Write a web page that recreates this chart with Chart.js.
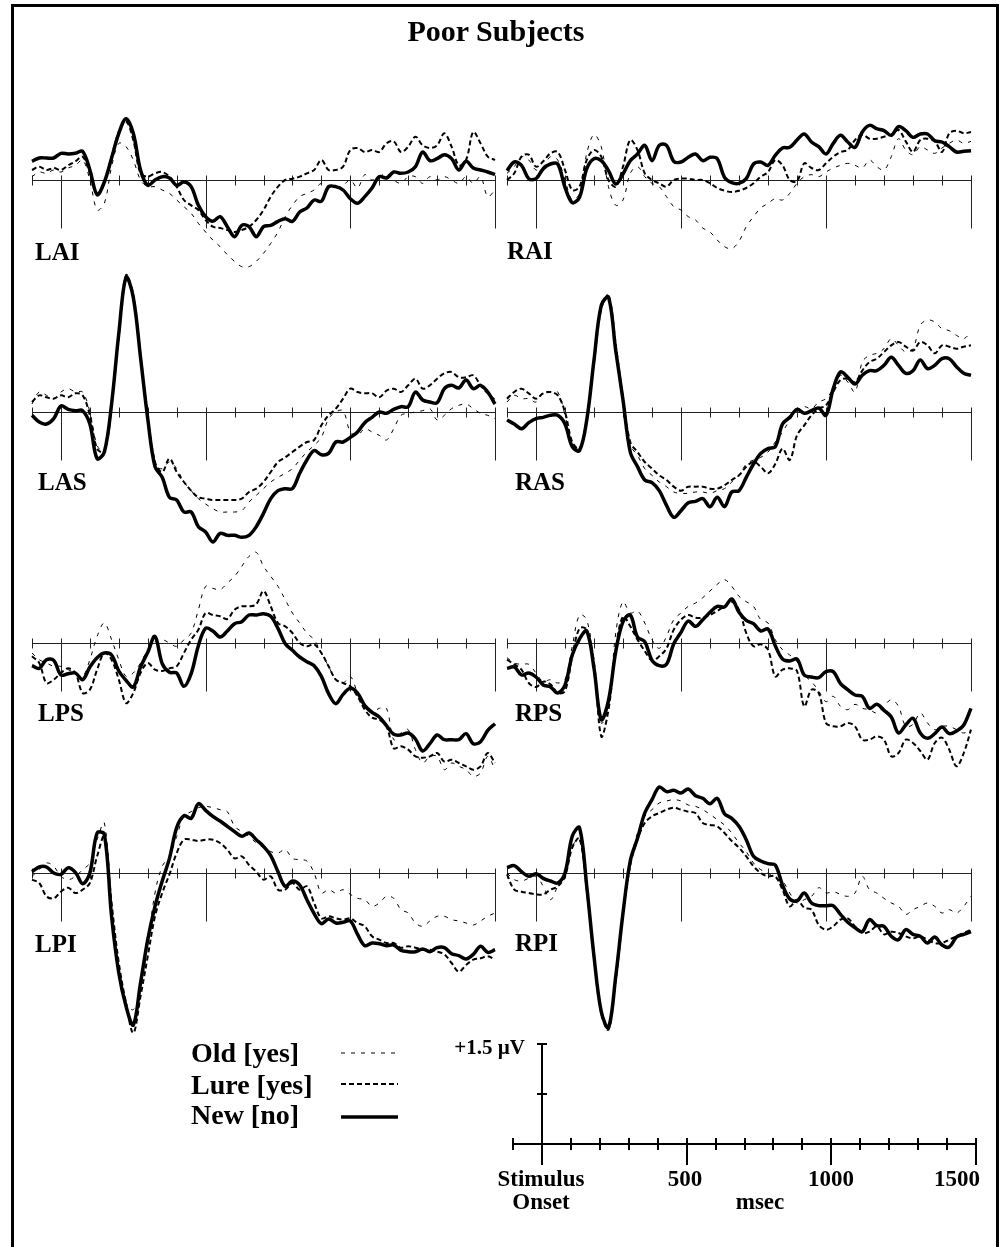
<!DOCTYPE html>
<html>
<head>
<meta charset="utf-8">
<script src="https://cdn.jsdelivr.net/npm/chart.js@4/dist/chart.umd.min.js"></script>
<style>
body { margin: 0; background: #fff; }
#page { position: relative; width: 1000px; height: 1247px; overflow: hidden; background: #fff;
        font-family: "Liberation Serif", "Times New Roman", serif; font-weight: bold; color: #000; }
#frame { position: absolute; left: 11px; top: 4px; width: 988px; height: 1300px; border: 3px solid #000; box-sizing: border-box; }
.txt { position: absolute; line-height: 1; white-space: nowrap; }
canvas { position: absolute; }
svg { position: absolute; left: 0; top: 0; }
</style>
</head>
<body>
<div id="page"><div id="frame"></div></div>
<script>
// sample times (ms) shared by every waveform
const times = [-100, -75, -50, -25, 0, 25, 50, 75, 100, 125, 150, 175, 200, 225, 250, 275, 300, 325, 350, 375,
    400, 425, 450, 475, 500, 525, 550, 575, 600, 625, 650, 675, 700, 725, 750, 775, 800, 825, 850, 875,
    900, 925, 950, 975, 1000, 1025, 1050, 1075, 1100, 1125, 1150, 1175, 1200, 1225, 1250, 1275, 1300, 1325, 1350, 1375,
    1400, 1425, 1450, 1475, 1500];
const tickTimes = [-100, 0, 100, 200, 300, 400, 500, 600, 700, 800, 900, 1000, 1100, 1200, 1300, 1400, 1500];
const majorTimes = [0, 500, 1000, 1500];
const conditions = ['Old [yes]', 'Lure [yes]', 'New [no]'];
const sites = ['LAI', 'RAI', 'LAS', 'RAS', 'LPS', 'RPS', 'LPI', 'RPI'];

// amplitudes in microvolts, positive up
const laiOld = [.05,.12,.1,.15,.12,.18,.22,.3,0,-.45,-.35,.2,.55,.5,.3,0,-.1,-.1,-.15,-.2,-.3,-.4,-.5,-.65,-.78,-.9,-1.0,-1.12,-1.22,-1.3,-1.3,-1.22,-1.1,-.95,-.78,-.55,-.38,-.25,-.2,-.15,-.05,-.1,-.12,-.08,0,-.12,.08,0,.05,.1,0,-.05,.05,.05,-.05,.05,0,.05,0,-.05,.05,-.05,.05,-.25,-.15];
const laiLure = [.15,.2,.15,.18,.15,.22,.28,.35,.1,-.2,-.05,.35,.72,.88,.6,.1,.05,.1,.12,.05,-.1,-.3,-.38,-.45,-.6,-.7,-.72,-.75,-.78,-.75,-.7,-.6,-.45,-.25,-.1,0,.02,.05,.1,.15,.3,.15,.15,.2,.45,.48,.42,.45,.42,.55,.58,.42,.5,.65,.52,.48,.52,.7,.5,.22,.3,.72,.55,.35,.3];
const laiNew = [.28,.33,.33,.33,.4,.39,.4,.43,.15,-.22,-.03,.33,.7,.92,.7,.15,-.08,0,.05,.03,-.08,-.03,-.1,-.38,-.55,-.62,-.55,-.7,-.85,-.68,-.7,-.85,-.7,-.68,-.62,-.58,-.62,-.48,-.42,-.3,-.32,-.1,-.1,-.15,-.28,-.35,-.25,-.12,.05,.03,.12,.1,.12,.2,.42,.29,.32,.38,.32,.15,.28,.18,.15,.12,.08];

const raiOld = [.1,.2,.35,.3,.15,.2,.35,.3,0,-.3,-.2,.4,.68,.5,-.1,-.38,-.3,.1,.2,.05,-.05,-.1,-.25,-.4,-.45,-.55,-.6,-.72,-.78,-.9,-1.0,-1.03,-.92,-.7,-.55,-.42,-.35,-.28,-.3,-.2,-.05,.05,.08,.05,.12,.18,.22,.25,.22,.18,.3,.2,.15,.35,.62,.45,.38,.5,.45,.4,.48,.55,.6,.55,.58];
const raiLure = [0,.1,.35,.38,.2,.28,.4,.42,.15,-.15,-.1,.3,.45,.35,0,-.1,.2,.6,.45,.1,0,-.05,-.1,0,.02,.02,0,0,-.05,-.12,-.16,-.18,-.16,-.12,-.05,.05,.12,.3,.22,0,-.02,.25,.18,.15,.25,.35,.42,.45,.6,.68,.62,.62,.65,.68,.75,.58,.42,.6,.62,.58,.42,.7,.74,.7,.72];
const raiNew = [.14,.27,.22,.02,.02,.17,.24,.24,-.11,-.34,-.26,.17,.32,.29,.14,-.06,.09,.29,.39,.52,.29,.52,.52,.28,.27,.34,.39,.29,.34,.32,.04,-.04,-.05,.02,.24,.27,.22,.37,.48,.49,.6,.69,.57,.5,.39,.55,.67,.57,.49,.72,.82,.77,.74,.67,.8,.74,.64,.69,.69,.59,.57,.5,.42,.43,.44];

const lasOld = [.12,.3,.25,.2,.3,.35,.3,.3,0,-.5,-.6,.1,1.1,2.0,1.7,.85,-.05,-.8,-.85,-.75,-.85,-1.05,-1.18,-1.3,-1.38,-1.45,-1.5,-1.5,-1.5,-1.48,-1.35,-1.25,-1.15,-1.05,-.98,-.92,-.85,-.72,-.6,-.5,-.38,-.1,0,.02,-.3,-.35,-.25,-.3,-.35,-.42,-.25,-.05,-.02,0,.02,.05,-.12,-.05,.05,.1,.12,.05,-.02,-.05,-.1];
const lasLure = [.15,.25,.22,.2,.25,.22,.28,.25,-.05,-.55,-.6,.1,1.15,2.05,1.75,.85,-.05,-.75,-.9,-.7,-.9,-1.05,-1.18,-1.28,-1.3,-1.32,-1.32,-1.32,-1.32,-1.3,-1.2,-1.15,-1.05,-.9,-.75,-.68,-.6,-.52,-.45,-.42,-.2,-.05,.05,.2,.35,.3,.28,.28,.22,.32,.35,.3,.4,.5,.35,.4,.5,.58,.6,.52,.52,.55,.4,.28,.18];
const lasNew = [-.05,-.15,-.18,-.1,.09,.04,.02,.02,-.18,-.7,-.6,.12,1.18,2.02,1.72,.82,-.1,-.82,-.98,-1.28,-1.32,-1.5,-1.5,-1.72,-1.8,-1.95,-1.82,-1.85,-1.85,-1.88,-1.85,-1.72,-1.52,-1.3,-1.18,-1.15,-1.15,-.92,-.72,-.58,-.64,-.62,-.45,-.45,-.38,-.3,-.16,-.08,0,-.02,.04,.08,.08,.3,.18,.15,.14,.35,.4,.36,.48,.35,.4,.3,.12];

const rasOld = [.15,.25,.2,.2,.15,.3,.3,.3,-.05,-.5,-.55,-.1,.8,1.6,1.75,.95,.15,-.5,-.65,-.85,-.95,-1.05,-1.12,-1.2,-1.22,-1.22,-1.2,-1.2,-1.22,-1.18,-1.15,-1.05,-.95,-.78,-.72,-.68,-.6,-.45,-.3,-.12,.02,.08,.05,.15,.2,.35,.55,.45,.3,.75,.85,.88,.95,1.1,1.0,.9,.95,1.3,1.38,1.35,1.25,1.22,1.15,1.1,1.2];
const rasLure = [.2,.3,.35,.28,.2,.28,.3,.25,0,-.45,-.55,-.1,.75,1.55,1.75,1.0,.2,-.45,-.6,-.75,-.85,-.95,-1.02,-1.12,-1.18,-1.12,-1.12,-1.12,-1.15,-1.15,-1.1,-1.02,-.95,-.82,-.75,-.82,-.92,-.78,-.55,-.72,-.35,-.2,-.05,.05,.1,.3,.48,.5,.45,.62,.75,.8,.9,1.0,1.05,.98,.92,1.05,1.0,.88,1.0,.98,.95,.98,1.0];
const rasNew = [-.12,-.18,-.25,-.16,-.1,-.08,-.05,-.05,-.18,-.52,-.58,-.12,.78,1.6,1.72,.92,.18,-.6,-.82,-1.02,-1.06,-1.18,-1.4,-1.58,-1.48,-1.36,-1.34,-1.3,-1.42,-1.28,-1.42,-1.2,-1.18,-.98,-.78,-.62,-.55,-.52,-.18,-.08,.04,-.02,.02,.06,-.05,.35,.6,.52,.42,.55,.62,.62,.7,.82,.7,.58,.62,.78,.65,.7,.8,.8,.68,.58,.55];

const lpsOld = [-.15,-.25,-.3,-.35,-.35,-.4,-.45,-.5,-.25,.1,.3,.05,-.25,-.5,-.45,-.3,-.1,.02,.05,0,-.05,.05,.15,.5,.85,.82,.8,.9,1.0,1.15,1.3,1.36,1.15,1.0,.85,.65,.45,.3,.15,.05,-.15,-.35,-.55,-.6,-.5,-.75,-.95,-1.05,-.98,-.98,-1.45,-1.35,-1.3,-1.6,-1.8,-1.7,-1.7,-1.9,-1.8,-1.85,-1.9,-2.0,-1.95,-1.7,-1.9];
const lpsLure = [-.2,-.3,-.6,-.55,-.45,-.38,-.45,-.75,-.7,-.4,-.15,-.25,-.55,-.9,-.75,-.45,-.3,-.4,-.42,-.38,-.35,-.15,.05,.2,.45,.42,.4,.36,.5,.55,.55,.58,.78,.55,.3,.25,.15,0,-.05,-.02,-.15,-.35,-.55,-.6,-.65,-.8,-1.0,-1.12,-1.15,-1.25,-1.58,-1.55,-1.6,-1.7,-1.72,-1.7,-1.65,-1.78,-1.75,-1.8,-1.85,-1.9,-1.85,-1.65,-1.8];
const lpsNew = [-.34,-.38,-.25,-.26,-.48,-.46,-.45,-.55,-.36,-.22,-.15,-.18,-.42,-.56,-.66,-.36,-.14,.1,-.31,-.44,-.45,-.65,-.46,-.04,.22,.18,.09,.18,.29,.32,.42,.42,.44,.4,.22,-.01,-.11,-.21,-.28,-.34,-.5,-.76,-.91,-.77,-.68,-.75,-.94,-1.04,-1.11,-1.24,-1.37,-1.38,-1.35,-1.44,-1.62,-1.51,-1.38,-1.45,-1.45,-1.45,-1.36,-1.51,-1.48,-1.31,-1.21];

const rpsOld = [-.22,-.3,-.32,-.32,-.45,-.58,-.55,-.6,-.55,-.05,.42,.35,-.3,-1.2,-.95,.15,.62,.45,.48,.3,.05,-.08,.1,.35,.45,.55,.6,.68,.78,.88,.95,.85,.7,.62,.55,.35,.3,.05,-.1,-.18,-.28,-.48,-.58,-.72,-.88,-.8,-.95,-1.0,-.92,-.98,-1.0,-1.05,-.95,-.85,-.95,-1.25,-1.22,-1.05,-1.2,-1.3,-1.25,-1.25,-1.3,-1.35,-1.3];
const rpsLure = [-.25,-.32,-.4,-.6,-.66,-.58,-.62,-.75,-.72,-.2,.22,.2,-.3,-1.4,-1.0,-.1,.4,.25,.05,-.12,-.26,-.2,-.08,.2,.35,.42,.38,.38,.42,.48,.55,.62,.5,.15,-.05,-.02,-.1,-.5,-.4,-.38,-.42,-.95,-.7,-.75,-1.2,-1.25,-1.25,-1.2,-1.25,-1.45,-1.45,-1.4,-1.45,-1.7,-1.65,-1.45,-1.5,-1.62,-1.75,-1.5,-1.42,-1.6,-1.85,-1.65,-1.3];
const rpsNew = [-.38,-.36,-.48,-.45,-.51,-.63,-.66,-.75,-.63,-.18,.06,.18,-.38,-1.15,-.86,-.13,.32,.42,.09,.02,-.26,-.34,-.32,-.01,.16,.33,.25,.35,.46,.55,.54,.66,.46,.34,.29,.18,.21,-.04,-.24,-.27,-.24,-.48,-.51,-.52,-.43,-.43,-.61,-.7,-.78,-.8,-.98,-.92,-1.01,-1.11,-1.35,-1.23,-1.13,-1.35,-1.43,-1.36,-1.26,-1.36,-1.32,-1.23,-.98];

const lpiOld = [-.05,.05,.15,.1,-.05,-.1,-.05,.05,.15,.5,.75,-.5,-1.5,-1.95,-2.05,-1.75,-1.05,-.3,.1,.25,.55,.85,.92,.98,1.0,.98,.95,.92,.7,.62,.55,.45,.38,.32,.3,.35,.22,.2,.18,0,-.3,-.25,-.3,-.25,-.32,-.38,-.4,-.5,-.45,-.35,-.38,-.55,-.6,-.75,-.8,-.72,-.65,-.65,-.7,-.72,-.75,-.78,-.72,-.65,-.6];
const lpiLure = [-.1,-.15,-.35,-.38,-.28,-.22,-.3,-.25,-.15,.25,.55,-.45,-1.35,-1.95,-2.4,-1.85,-1.25,-.65,-.3,-.02,.3,.5,.5,.48,.5,.5,.45,.35,.22,.25,.12,.02,-.1,-.05,-.25,-.25,-.15,-.25,-.2,-.45,-.68,-.65,-.68,-.7,-.68,-.75,-.8,-.95,-1.0,-1.05,-1.05,-1.12,-1.1,-1.12,-1.15,-1.15,-1.18,-1.22,-1.35,-1.48,-1.38,-1.3,-1.28,-1.25,-1.3];
const lpiNew = [.02,.09,.09,0,-.02,.08,.01,-.16,0,.6,.58,-.65,-1.5,-2.0,-2.28,-1.65,-1.0,-.5,-.12,.22,.68,.86,.82,1.04,.94,.85,.78,.7,.62,.55,.6,.5,.4,.26,.02,-.2,-.12,-.18,-.4,-.61,-.76,-.69,-.75,-.74,-.72,-.92,-1.09,-1.05,-1.06,-1.09,-1.08,-1.16,-1.18,-1.18,-1.14,-1.18,-1.12,-1.12,-1.21,-1.24,-1.29,-1.22,-1.1,-1.19,-1.15];

const rpiOld = [0,-.1,-.12,-.08,-.05,-.2,-.4,-.2,-.05,.4,.5,-.2,-1.25,-2.05,-2.28,-1.5,-.58,.15,.6,.85,.95,1.05,1.08,1.1,1.08,1.02,1.0,.95,.88,.8,.72,.6,.45,.32,.15,.05,0,-.08,-.12,-.3,-.45,-.4,-.35,-.22,-.3,-.28,-.32,-.35,-.3,-.05,-.25,-.3,-.38,-.45,-.5,-.62,-.55,-.5,-.45,-.5,-.6,-.55,-.6,-.5,-.35];
const rpiLure = [-.02,-.25,-.28,-.3,-.32,-.32,-.25,-.2,-.05,.38,.52,-.25,-1.28,-2.1,-2.35,-1.6,-.65,.12,.5,.75,.85,.9,.95,.98,.95,.92,.9,.75,.72,.7,.6,.48,.38,.25,.1,0,-.05,-.05,-.25,-.5,-.4,-.52,-.55,-.78,-.85,-.8,-.7,-.68,-.8,-.9,-.88,-.8,-.92,-.88,-.9,-.95,-.98,-.95,-1.0,-1.05,-1.05,-1.0,-.95,-.9,-.85];
const rpiNew = [.08,.11,.02,-.05,-.01,-.08,-.12,-.15,0,.55,.68,-.2,-1.25,-2.08,-2.32,-1.55,-.6,.18,.52,.9,1.1,1.29,1.22,1.24,1.2,1.26,1.16,1.12,1.04,1.12,.89,.82,.7,.5,.25,.18,.14,.12,-.18,-.39,-.42,-.3,-.45,-.49,-.49,-.49,-.62,-.74,-.82,-.88,-.7,-.79,-.8,-.95,-1.0,-.85,-.92,-.95,-1.05,-.96,-1.08,-1.11,-.96,-.92,-.88];

const waves = {
    LAI: [laiOld, laiLure, laiNew], RAI: [raiOld, raiLure, raiNew],
    LAS: [lasOld, lasLure, lasNew], RAS: [rasOld, rasLure, rasNew],
    LPS: [lpsOld, lpsLure, lpsNew], RPS: [rpsOld, rpsLure, rpsNew],
    LPI: [lpiOld, lpiLure, lpiNew], RPI: [rpiOld, rpiLure, rpiNew]
};

// page layout (pixels)
const page = document.getElementById('page');
const PX_PER_UV = 100 / 1.5;
const PAD = 12;
const HALF = 2.7;
const colX = { L: [32, 495], R: [507, 971] };
const rowBase = [180, 412, 643, 873];
const labelPos = {
    LAI: [35, 260], RAI: [507, 259], LAS: [38, 490], RAS: [515, 490],
    LPS: [38, 721], RPS: [515, 721], LPI: [35, 952], RPI: [515, 951]
};
const styles = [
    { borderWidth: 1, borderDash: [4, 6] },
    { borderWidth: 2, borderDash: [5, 3] },
    { borderWidth: 3.5, borderDash: [] }
];

function addText(str, x, baseline, size, align) {
    const d = document.createElement('div');
    d.className = 'txt';
    d.textContent = str;
    d.style.fontSize = size + 'px';
    d.style.left = x + 'px';
    d.style.top = (baseline - 0.84 * size) + 'px';
    if (align === 'center') d.style.transform = 'translateX(-50%)';
    if (align === 'right') d.style.transform = 'translateX(-100%)';
    page.appendChild(d);
}

function makeCanvas(left, top, w, h) {
    const cv = document.createElement('canvas');
    cv.width = w; cv.height = h;
    cv.style.left = left + 'px'; cv.style.top = top + 'px';
    cv.style.width = w + 'px'; cv.style.height = h + 'px';
    page.appendChild(cv);
    return cv;
}

const panelAxis = {
    id: 'panelAxis',
    beforeDatasetsDraw(chart) {
        const ctx = chart.ctx, xs = chart.scales.x, ys = chart.scales.y;
        const y0 = Math.round(ys.getPixelForValue(0)) + 0.5;
        ctx.save();
        ctx.strokeStyle = '#222';
        ctx.lineWidth = 1;
        ctx.beginPath();
        ctx.moveTo(xs.getPixelForValue(-100), y0);
        ctx.lineTo(xs.getPixelForValue(1500), y0);
        tickTimes.forEach(t => {
            const x = Math.round(xs.getPixelForValue(t)) + 0.5;
            ctx.moveTo(x, y0 - 5);
            ctx.lineTo(x, y0 + (majorTimes.includes(t) ? 48 : 5));
        });
        ctx.stroke();
        ctx.restore();
    }
};

function makePanel(site, idx) {
    const col = idx % 2 === 0 ? colX.L : colX.R;
    const base = rowBase[Math.floor(idx / 2)];
    const w = col[1] - col[0] + 2 * PAD;
    const h = Math.round(2 * HALF * PX_PER_UV) + 2 * PAD;
    const cv = makeCanvas(col[0] - PAD, base - HALF * PX_PER_UV - PAD, w, h);

    const sets = waves[site].map((vals, i) => Object.assign({
        label: conditions[i],
        data: times.map((t, k) => ({ x: t, y: vals[k] })),
        borderColor: '#000',
        pointRadius: 0,
        tension: 0.35,
        fill: false,
        clip: false,
        borderCapStyle: 'butt',
        borderJoinStyle: 'round',
        order: 3 - i
    }, styles[i]));

    new Chart(cv, {
        type: 'line',
        data: { datasets: sets },
        options: {
            responsive: false,
            animation: false,
            events: [],
            layout: { padding: PAD },
            plugins: { legend: { display: false }, tooltip: { enabled: false } },
            scales: {
                x: { type: 'linear', min: -100, max: 1500, display: false },
                y: { min: -HALF, max: HALF, display: false }
            }
        },
        plugins: [panelAxis]
    });

    addText(site, labelPos[site][0], labelPos[site][1], 25, 'left');
}

sites.forEach(makePanel);

// calibration bar: 1.5 µV vertical, time axis in 100 ms steps
const barAxis = {
    id: 'barAxis',
    afterDraw(chart) {
        const ctx = chart.ctx, xs = chart.scales.x, ys = chart.scales.y;
        const y0 = Math.round(ys.getPixelForValue(0));
        const xz = Math.round(xs.getPixelForValue(0));
        ctx.save();
        ctx.strokeStyle = '#000';
        ctx.lineWidth = 2;
        ctx.beginPath();
        ctx.moveTo(xs.getPixelForValue(-100), y0);
        ctx.lineTo(xs.getPixelForValue(1500), y0);
        tickTimes.forEach(t => {
            const x = Math.round(xs.getPixelForValue(t));
            ctx.moveTo(x, y0 - 6);
            ctx.lineTo(x, y0 + (majorTimes.includes(t) ? 21 : 6));
        });
        const yTop = Math.round(ys.getPixelForValue(1.5));
        const yMid = Math.round(ys.getPixelForValue(0.75));
        ctx.moveTo(xz, yTop);
        ctx.lineTo(xz, y0);
        ctx.moveTo(xz - 5, yTop); ctx.lineTo(xz + 5, yTop);
        ctx.moveTo(xz - 5, yMid); ctx.lineTo(xz + 5, yMid);
        ctx.stroke();
        ctx.restore();
    }
};

(function makeBar() {
    const x0 = 513, x1 = 976, yTop = 1044;
    const h = Math.round(2 * PX_PER_UV) + 2 * PAD;
    const cv = makeCanvas(x0 - PAD, yTop - PAD, x1 - x0 + 2 * PAD, h);
    new Chart(cv, {
        type: 'line',
        data: { datasets: [] },
        options: {
            responsive: false,
            animation: false,
            events: [],
            layout: { padding: PAD },
            plugins: { legend: { display: false }, tooltip: { enabled: false } },
            scales: {
                x: { type: 'linear', min: -100, max: 1500, display: false },
                y: { min: -0.5, max: 1.5, display: false }
            }
        },
        plugins: [barAxis]
    });
})();

// legend
const legendY = [1053, 1084, 1117];
const legendBase = [1063, 1095, 1125];
conditions.forEach((c, i) => addText(c, 191, legendBase[i], 28, 'left'));
const svgNS = 'http://www.w3.org/2000/svg';
const svg = document.createElementNS(svgNS, 'svg');
svg.setAttribute('width', 1000);
svg.setAttribute('height', 1247);
styles.forEach((s, i) => {
    const ln = document.createElementNS(svgNS, 'line');
    ln.setAttribute('x1', 341); ln.setAttribute('x2', 398);
    ln.setAttribute('y1', legendY[i]); ln.setAttribute('y2', legendY[i]);
    ln.setAttribute('stroke', '#000');
    ln.setAttribute('stroke-width', s.borderWidth);
    if (s.borderDash.length) ln.setAttribute('stroke-dasharray', s.borderDash.join(' '));
    svg.appendChild(ln);
});
page.appendChild(svg);

// texts
addText('Poor Subjects', 496, 41, 30, 'center');
addText('+1.5 µV', 525, 1055, 21, 'right');
addText('Stimulus', 541, 1186, 23, 'center');
addText('Onset', 541, 1209, 23, 'center');
addText('500', 685, 1186, 23, 'center');
addText('1000', 831, 1186, 23, 'center');
addText('1500', 957, 1186, 23, 'center');
addText('msec', 760, 1209, 23, 'center');
</script>
</body>
</html>
